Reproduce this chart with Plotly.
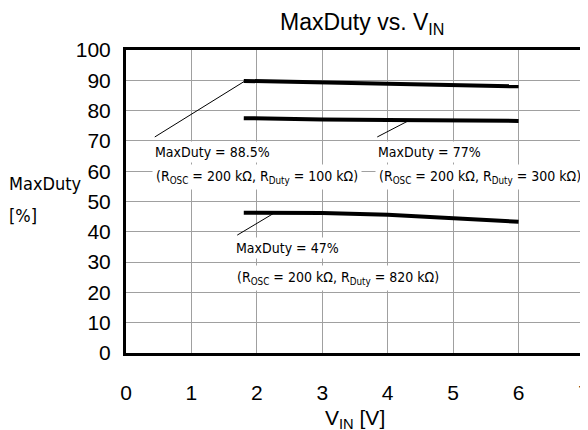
import plotly.graph_objects as go

vin = [1.8, 2, 3, 4, 5, 6]
duty_885 = [89.8, 89.7, 89.2, 88.8, 88.4, 88.0]
duty_77 = [77.5, 77.4, 77.1, 76.9, 76.8, 76.6]
duty_47 = [46.3, 46.3, 46.2, 45.6, 44.5, 43.3]

xticks = [0, 1, 2, 3, 4, 5, 6, 7]
yticks = [0, 10, 20, 30, 40, 50, 60, 70, 80, 90, 100]

label_top = ["MaxDuty = 88.5%", "MaxDuty = 77%", "MaxDuty = 47%"]
label_bottom = [
    "(R<sub>OSC</sub> = 200 kΩ, R<sub>Duty</sub> = 100 kΩ)",
    "(R<sub>OSC</sub> = 200 kΩ, R<sub>Duty</sub> = 300 kΩ)",
    "(R<sub>OSC</sub> = 200 kΩ, R<sub>Duty</sub> = 820 kΩ)",
]

narrow = "DejaVu Sans Condensed, Liberation Sans Narrow, Arial Narrow, sans-serif"
fig = go.Figure()
for ys in [duty_885, duty_77, duty_47]:
    fig.add_trace(go.Scatter(x=vin, y=ys, mode="lines",
                             line=dict(color="black", width=4), showlegend=False))

# leader lines
leaders = [((1.82, 89.8), (0.44, 71.3)), ((4.34, 76.9), (3.84, 71.3)), ((2.25, 46.0), (1.70, 38.9))]
for (x0, y0), (x1, y1) in leaders:
    fig.add_shape(type="line", x0=x0, y0=y0, x1=x1, y1=y1, line=dict(color="black", width=1))

pos = [(0.39, 66.3, 58.1), (3.8, 66.3, 58.1), (1.63, 34.6, 24.6)]
for (x, y1, y2), t1, t2 in zip(pos, label_top, label_bottom):
    fig.add_annotation(x=x, y=y2, text=t2, showarrow=False, xanchor="left", yanchor="middle",
                       bgcolor="white", borderpad=3,
                       font=dict(family=narrow, size=14, color="black"))
    fig.add_annotation(x=x, y=y1, text=t1, showarrow=False, xanchor="left", yanchor="middle",
                       bgcolor="white", borderpad=2,
                       font=dict(family=narrow, size=14, color="black"))

fig.add_annotation(text="MaxDuty vs. V<sub>IN</sub>", xref="paper", yref="paper", x=0.515, y=1.0,
                   yshift=27, yanchor="middle", showarrow=False,
                   font=dict(family="Liberation Sans, Arial", size=23))
fig.add_annotation(text="V<sub>IN</sub> [V]", xref="paper", yref="paper", x=0.5, y=0, yshift=-66,
                   yanchor="middle", showarrow=False, font=dict(family="Liberation Sans, Arial", size=21))
fig.add_annotation(text="MaxDuty", xref="paper", yref="paper", x=0, y=0, yshift=170, xshift=-119,
                   xanchor="left", yanchor="middle", showarrow=False,
                   font=dict(family=narrow, size=18))
fig.add_annotation(text="[%]", xref="paper", yref="paper", x=0, y=0, yshift=138, xshift=-119,
                   xanchor="left", yanchor="middle", showarrow=False,
                   font=dict(family=narrow, size=18))

# page body has an 8px margin, so the figure is sized/offset to keep the plot where the reference has it
fig.update_layout(
    width=580, height=422, margin=dict(l=118, r=4, t=42, b=77),
    plot_bgcolor="white", paper_bgcolor="white",
    font=dict(family="Liberation Sans, Arial", size=21, color="black"),
)
fig.update_xaxes(range=[0, 7], tickvals=xticks, showgrid=True, gridcolor="#a0a0a0", gridwidth=1,
                 showline=True, linecolor="black", linewidth=3, mirror=True, zeroline=False,
                 ticks="", ticklabelstandoff=19, automargin=False, ticklabeloverflow="allow")
fig.update_yaxes(range=[0, 100], tickvals=yticks, showgrid=True, gridcolor="#a0a0a0", gridwidth=1,
                 showline=True, linecolor="black", linewidth=3, mirror=True, zeroline=False,
                 ticks="", ticklabelstandoff=8, automargin=False)

fig.write_html("out.html")
